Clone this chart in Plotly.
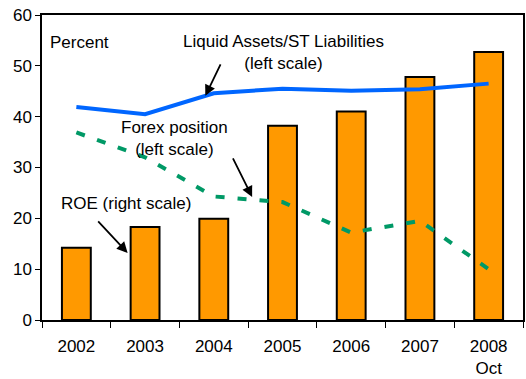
import plotly.graph_objects as go

years = ["2002", "2003", "2004", "2005", "2006", "2007", "2008<br>Oct"]
roe = [14.2, 18.3, 19.9, 38.2, 41.0, 47.8, 52.7]
liquid_assets = [41.9, 40.5, 44.6, 45.5, 45.1, 45.4, 46.5]
forex_position = [36.9, 32.0, 24.3, 23.2, 17.2, 19.5, 10.0]

FONT = "Liberation Sans, Arial, sans-serif"

fig = go.Figure()
fig.add_trace(go.Bar(
    x=years, y=roe, width=0.42,
    marker=dict(color="#FF9900", line=dict(color="#000000", width=2)),
    name="ROE",
))
fig.add_trace(go.Scatter(
    x=years, y=liquid_assets, mode="lines",
    line=dict(color="#0066FF", width=4),
    name="Liquid Assets/ST Liabilities",
))
fig.add_trace(go.Scatter(
    x=years, y=forex_position, mode="lines",
    line=dict(color="#009966", width=4, dash="9px,13px"),
    name="Forex position",
))

text_style = dict(showarrow=False, font=dict(family=FONT, size=17, color="#000000"))
arrow_style = dict(text="", showarrow=True, arrowhead=2, arrowsize=1.2,
                   arrowwidth=1.8, arrowcolor="#000000", axref="x", ayref="y")

fig.update_layout(
    width=526, height=379,
    margin=dict(l=42, r=1, t=15, b=59),
    paper_bgcolor="white", plot_bgcolor="white",
    showlegend=False,
    font=dict(family=FONT, size=17, color="#000000"),
    xaxis=dict(
        type="category", range=[-0.5, 6.5], tickson="boundaries",
        ticks="outside", ticklen=6, tickcolor="#000000",
        showline=True, linecolor="#000000", linewidth=1.5, mirror=True,
        showgrid=False, tickfont=dict(size=17), ticklabelstandoff=10,
    ),
    yaxis=dict(
        range=[0, 60], tickvals=[0, 10, 20, 30, 40, 50, 60],
        ticks="outside", ticklen=5, tickcolor="#000000",
        showline=True, linecolor="#000000", linewidth=1.5, mirror=True,
        showgrid=False, zeroline=False, tickfont=dict(size=17),
    ),
    annotations=[
        dict(x=-0.413, y=54.5, xanchor="left", text="Percent", **text_style),
        dict(x=3.02, y=52.6, xanchor="center",
             text="Liquid Assets/ST Liabilities<br>(left scale)", **text_style),
        dict(x=1.43, y=35.8, xanchor="center",
             text="Forex position<br>(left scale)", **text_style),
        dict(x=0.725, y=23.0, xanchor="center",
             text="ROE (right scale)", **text_style),
        dict(x=1.877, y=44.1, ax=2.109, ay=50.6, **arrow_style),
        dict(x=2.558, y=24.2, ax=2.268, ay=32.1, **arrow_style),
        dict(x=0.746, y=13.2, ax=0.297, ay=19.7, **arrow_style),
    ],
)

fig.write_html("out.html")
